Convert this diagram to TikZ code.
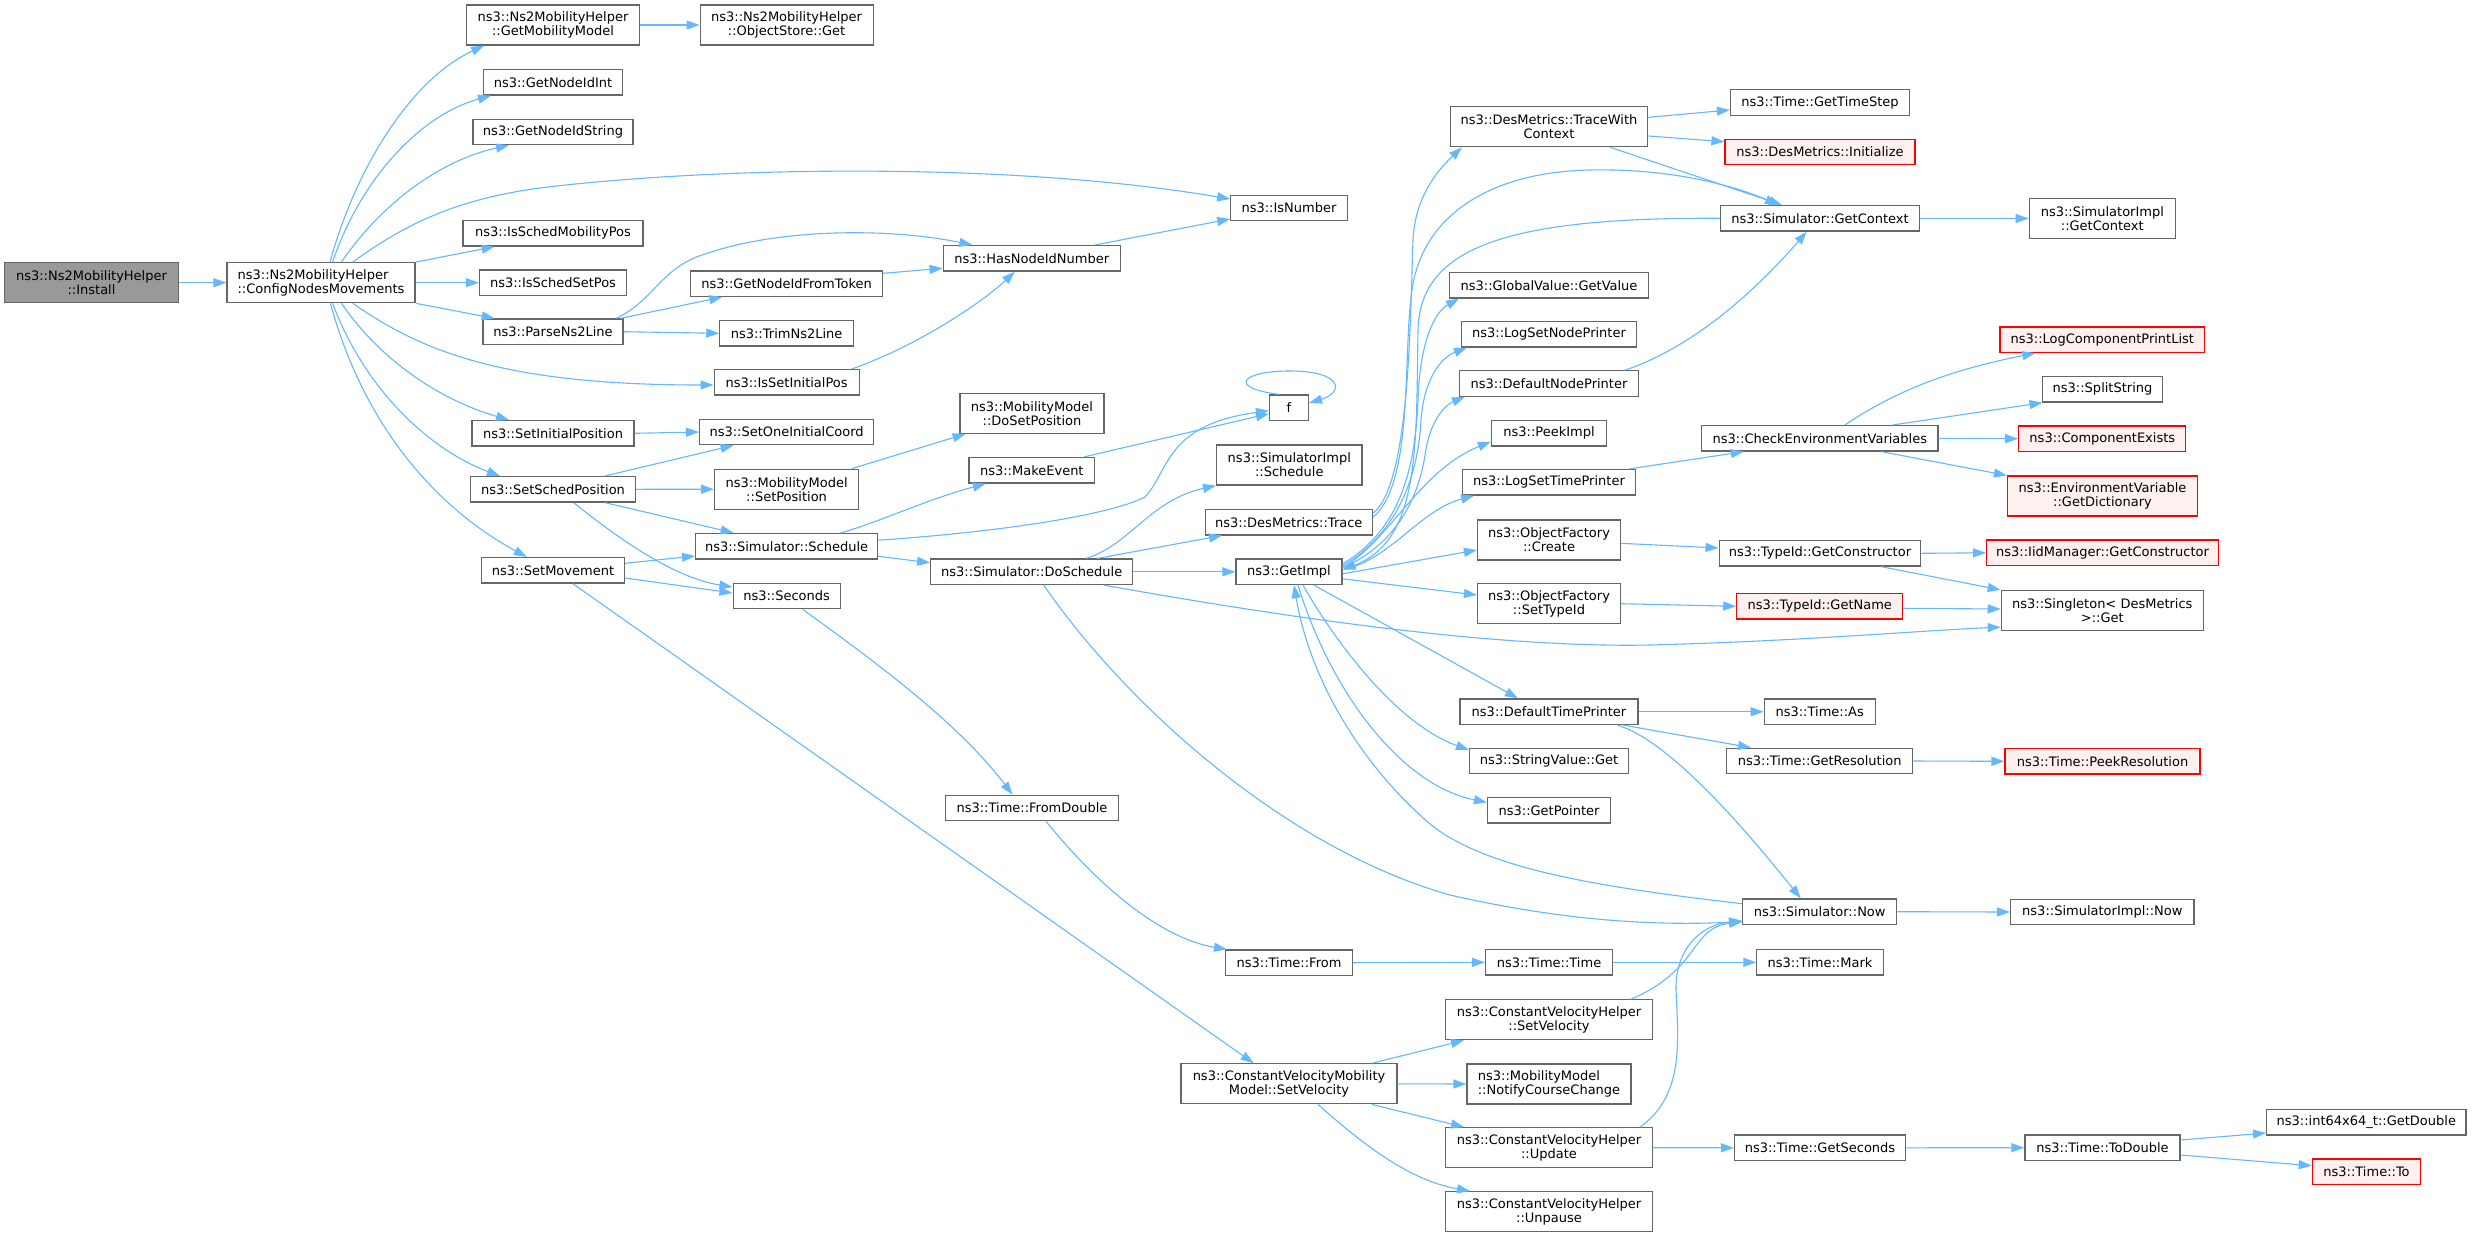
\documentclass[tikz,border=0pt]{standalone}
\usepackage{fontspec}
\setmainfont{DejaVu Sans}
\usetikzlibrary{arrows.meta}
\definecolor{edgeblue}{HTML}{63B8FF}
\definecolor{nodegray}{HTML}{666666}
\definecolor{rootfill}{HTML}{999999}
\definecolor{redfill}{HTML}{FFF0F0}
\begin{document}
\begin{tikzpicture}[x=1pt,y=-1pt,
  nd/.style={draw=nodegray, line width=1.2pt, fill=white, inner sep=0pt, minimum height=25.5pt, font=\fontsize{13}{14}\selectfont, align=center, text=black},
  two/.style={minimum height=40pt},
  rootnd/.style={fill=rootfill},
  rednd/.style={draw=red, fill=redfill},
  e/.style={draw=edgeblue, line width=1.1pt, -{Triangle[length=13pt,width=9pt]}}]
\fill[white] (0,0) rectangle (2472,1237);
\useasboundingbox (0,0) rectangle (2472,1237);
% column 1-3
\node[nd,rootnd,two,minimum width=174pt] (root) at (91.5,282.7) {ns3::Ns2MobilityHelper\\::Install};
\node[nd,two,minimum width=188pt,align=left] (cnm) at (321,282.7) {ns3::Ns2MobilityHelper\\::ConfigNodesMovements};
\node[nd,two,minimum width=173pt] (gmm) at (553,25) {ns3::Ns2MobilityHelper\\::GetMobilityModel};
\node[nd,minimum width=139pt] (gnii) at (553,82.3) {ns3::GetNodeIdInt};
\node[nd,minimum width=160pt] (gnis) at (553,132) {ns3::GetNodeIdString};
\node[nd,minimum width=180pt] (isp) at (553,233.3) {ns3::IsSchedMobilityPos};
\node[nd,minimum width=147pt] (issp) at (553,282.7) {ns3::IsSchedSetPos};
\node[nd,minimum width=140pt] (pnl) at (553,331.7) {ns3::ParseNs2Line};
\node[nd,minimum width=162pt] (sip) at (553,433.3) {ns3::SetInitialPosition};
\node[nd,minimum width=165pt] (ssp) at (553,489.3) {ns3::SetSchedPosition};
\node[nd,minimum width=143pt] (smv) at (553,570.3) {ns3::SetMovement};
% column 4
\node[nd,two,minimum width=173pt] (osg) at (786.6,25) {ns3::Ns2MobilityHelper\\::ObjectStore::Get};
\node[nd,minimum width=192pt] (gnift) at (786.6,283.7) {ns3::GetNodeIdFromToken};
\node[nd,minimum width=133.5pt] (trim) at (786.6,333.3) {ns3::TrimNs2Line};
\node[nd,minimum width=145pt] (isip) at (786.6,382.3) {ns3::IsSetInitialPos};
\node[nd,minimum width=174pt] (soic) at (786.6,432) {ns3::SetOneInitialCoord};
\node[nd,two,minimum width=144pt] (mmsp) at (786.6,489.2) {ns3::MobilityModel\\::SetPosition};
\node[nd,minimum width=182pt] (ssch) at (786.6,546.2) {ns3::Simulator::Schedule};
\node[nd,minimum width=107pt] (sec) at (786.6,596) {ns3::Seconds};
% column 5
\node[nd,minimum width=177pt] (hnin) at (1031.7,258.3) {ns3::HasNodeIdNumber};
\node[nd,two,minimum width=144pt] (dsp) at (1032,413.3) {ns3::MobilityModel\\::DoSetPosition};
\node[nd,minimum width=125.5pt] (mke) at (1031.8,470.3) {ns3::MakeEvent};
\node[nd,minimum width=202pt] (dsch) at (1031.7,571.8) {ns3::Simulator::DoSchedule};
\node[nd,minimum width=173pt] (fdb) at (1032,808) {ns3::Time::FromDouble};
% column 6
\node[nd,minimum width=116.5pt] (isnum) at (1289,208) {ns3::IsNumber};
\node[nd,minimum width=39pt] (f) at (1289,407.7) {f};
\node[nd,two,minimum width=145.5pt] (sis) at (1289.3,465) {ns3::SimulatorImpl\\::Schedule};
\node[nd,minimum width=167pt] (dtr) at (1288.8,522.2) {ns3::DesMetrics::Trace};
\node[nd,minimum width=106pt] (gimpl) at (1289,571.8) {ns3::GetImpl};
\node[nd,minimum width=127pt] (tfrom) at (1289,962.7) {ns3::Time::From};
\node[nd,two,minimum width=216pt] (cvmm) at (1289,1083.8) {ns3::ConstantVelocityMobility\\Model::SetVelocity};
% column 7
\node[nd,two,minimum width=197.5pt] (twc) at (1549,126.7) {ns3::DesMetrics::TraceWith\\Context};
\node[nd,minimum width=199.4pt] (gval) at (1549,285.2) {ns3::GlobalValue::GetValue};
\node[nd,minimum width=175pt] (lsnp) at (1549,334.3) {ns3::LogSetNodePrinter};
\node[nd,minimum width=179pt] (dnp) at (1549,383.5) {ns3::DefaultNodePrinter};
\node[nd,minimum width=115pt] (pimpl) at (1549,433.3) {ns3::PeekImpl};
\node[nd,minimum width=173pt] (lstp) at (1549,482.3) {ns3::LogSetTimePrinter};
\node[nd,two,minimum width=143pt] (ofc) at (1549,540) {ns3::ObjectFactory\\::Create};
\node[nd,two,minimum width=143pt] (ofs) at (1549,603.7) {ns3::ObjectFactory\\::SetTypeId};
\node[nd,minimum width=178pt] (dtp) at (1549,711.7) {ns3::DefaultTimePrinter};
\node[nd,minimum width=159pt] (svg) at (1549,761) {ns3::StringValue::Get};
\node[nd,minimum width=123pt] (gptr) at (1549,810.3) {ns3::GetPointer};
\node[nd,minimum width=127pt] (ttime) at (1549,962.3) {ns3::Time::Time};
\node[nd,two,minimum width=206.7pt] (cvhsv) at (1549,1019.7) {ns3::ConstantVelocityHelper\\::SetVelocity};
\node[nd,two,minimum width=164pt,align=left] (mmncc) at (1549,1084) {ns3::MobilityModel\\::NotifyCourseChange};
\node[nd,two,minimum width=206.7pt] (cvhu) at (1549,1147.7) {ns3::ConstantVelocityHelper\\::Update};
\node[nd,two,minimum width=206.7pt] (cvhup) at (1549,1211.7) {ns3::ConstantVelocityHelper\\::Unpause};
% column 8
\node[nd,minimum width=179pt] (gts) at (1820,102.5) {ns3::Time::GetTimeStep};
\node[nd,rednd,minimum width=190pt] (dmi) at (1820,152) {ns3::DesMetrics::Initialize};
\node[nd,minimum width=198.6pt] (sgc) at (1820,218.3) {ns3::Simulator::GetContext};
\node[nd,minimum width=236.5pt] (cev) at (1819.8,438.3) {ns3::CheckEnvironmentVariables};
\node[nd,minimum width=201.7pt] (tgc) at (1820,553.3) {ns3::TypeId::GetConstructor};
\node[nd,rednd,minimum width=166pt] (tgn) at (1819.8,606.3) {ns3::TypeId::GetName};
\node[nd,minimum width=111pt] (tas) at (1819.7,711.7) {ns3::Time::As};
\node[nd,minimum width=186pt] (tgr) at (1819.7,761) {ns3::Time::GetResolution};
\node[nd,minimum width=154pt] (snow) at (1819.7,911.7) {ns3::Simulator::Now};
\node[nd,minimum width=126.3pt] (tmark) at (1820,962.3) {ns3::Time::Mark};
\node[nd,minimum width=171pt] (tgs) at (1820,1147.8) {ns3::Time::GetSeconds};
% column 9
\node[nd,two,minimum width=146pt] (sigc) at (2102.3,218.5) {ns3::SimulatorImpl\\::GetContext};
\node[nd,rednd,minimum width=204.7pt] (lcpl) at (2102.3,339.8) {ns3::LogComponentPrintList};
\node[nd,minimum width=120pt] (sstr) at (2102.5,389.3) {ns3::SplitString};
\node[nd,rednd,minimum width=167pt] (cex) at (2102.3,438.7) {ns3::ComponentExists};
\node[nd,rednd,two,minimum width=190pt] (evgd) at (2102.5,496) {ns3::EnvironmentVariable\\::GetDictionary};
\node[nd,rednd,minimum width=231.7pt] (iigc) at (2102.5,552.8) {ns3::IidManager::GetConstructor};
\node[nd,two,minimum width=202pt] (sing) at (2102.3,610.5) {ns3::Singleton< DesMetrics\\ >::Get};
\node[nd,rednd,minimum width=195pt] (tpr) at (2102.5,761.3) {ns3::Time::PeekResolution};
\node[nd,minimum width=183.3pt] (sinow) at (2102.3,912) {ns3::SimulatorImpl::Now};
\node[nd,minimum width=155pt] (ttd) at (2102.5,1147.7) {ns3::Time::ToDouble};
% column 10
\node[nd,minimum width=199.3pt] (gdbl) at (2366.3,1122.3) {ns3::int64x64\_t::GetDouble};
\node[nd,rednd,minimum width=108.3pt] (tto) at (2366.5,1171.7) {ns3::Time::To};
% edges
\draw[e] (root.east) -- (cnm.west);
\draw[e] ([xshift=9pt]cnm.north) .. controls (355,170) and (410,80) .. ([xshift=-69pt]gmm.south);
\draw[e] ([xshift=11.6pt]cnm.north) .. controls (360,180) and (420,115) .. ([xshift=-62pt]gnii.south);
\draw[e] ([xshift=20.5pt]cnm.north) .. controls (380,205) and (440,160) .. ([xshift=-44pt]gnis.south);
\draw[e] ([xshift=31.7pt]cnm.north) .. controls (400,228) and (450,200) .. (540,188) .. controls (700,168) and (1000,160) .. ([yshift=9pt]isnum.west);
\draw[e] (cnm.north east) -- ([xshift=-58.4pt]isp.south);
\draw[e] (cnm.east) -- (issp.west);
\draw[e] (cnm.south east) -- ([xshift=-58.4pt]pnl.north);
\draw[e] ([xshift=31.7pt]cnm.south) .. controls (420,350) and (500,385) .. ([yshift=-2.7pt]isip.west);
\draw[e] ([xshift=20.5pt]cnm.south) .. controls (380,360) and (440,400) .. ([xshift=-44pt]sip.north);
\draw[e] ([xshift=11.6pt]cnm.south) .. controls (365,390) and (430,450) .. ([xshift=-53pt]ssp.north);
\draw[e] ([xshift=9.4pt]cnm.south) .. controls (365,430) and (440,510) .. ([xshift=-26.2pt]smv.north);
\draw[e] (gmm.east) -- (osg.west);
\draw[e] ([xshift=63pt]pnl.north) .. controls (655,300) and (660,268) .. (705,254) .. controls (780,228) and (890,228) .. ([xshift=-59.4pt]hnin.north);
\draw[e] ([xshift=67.5pt]pnl.north) -- ([xshift=-64.3pt]gnift.south);
\draw[e] (pnl.east) -- (trim.west);
\draw[e] ([yshift=10.4pt]gnift.east) -- ([yshift=-10pt]hnin.west);
\draw[e] ([xshift=65.2pt]isip.north) .. controls (920,345) and (985,300) .. ([xshift=-17pt]hnin.south);
\draw[e] ([xshift=63.3pt]hnin.north) -- ([yshift=-11pt]isnum.west);
\draw[e] (sip.east) -- (soic.west);
\draw[e] ([xshift=52pt]ssp.north) -- ([xshift=-53pt]soic.south);
\draw[e] (ssp.east) -- (mmsp.west);
\draw[e] ([xshift=52pt]ssp.south) -- ([xshift=-53pt]ssch.north);
\draw[e] ([xshift=20.7pt]ssp.south) .. controls (620,540) and (675,578) .. ([yshift=9pt]sec.west);
\draw[e] ([yshift=7pt]smv.east) -- ([yshift=-9.8pt]ssch.west);
\draw[e] ([yshift=-7.7pt]smv.east) -- ([yshift=3pt]sec.west);
\draw[e] ([xshift=19.8pt]smv.south) -- ([xshift=-35.4pt]cvmm.north);
\draw[e] ([xshift=65.2pt]mmsp.north) -- ([xshift=-66.4pt]dsp.south);
\draw[e] ([xshift=54pt]ssch.north) .. controls (880,522) and (925,500) .. ([xshift=-46pt]mke.south);
\draw[e] ([yshift=6pt]ssch.east) .. controls (1000,532) and (1110,515) .. (1145,497) .. controls (1170,470) and (1165,425) .. ([yshift=-3pt]f.west);
\draw[e] ([yshift=-10pt]ssch.east) -- ([yshift=9pt]dsch.west);
\draw[e] ([xshift=52pt]mke.north) -- ([yshift=-6pt]f.west);
\draw[e] ([xshift=-10pt]f.north) .. controls (1228,388) and (1240,371) .. (1290,371) .. controls (1342,371) and (1345,392) .. ([yshift=4.7pt]f.east);
\draw[e] ([xshift=16pt]sec.south) .. controls (880,665) and (960,725) .. ([xshift=-19.5pt]fdb.north);
\draw[e] ([xshift=14pt]fdb.south) .. controls (1110,900) and (1170,940) .. ([xshift=-62pt]tfrom.north);
\draw[e] (tfrom.east) -- (ttime.west);
\draw[e] (ttime.east) -- (tmark.west);
\draw[e] ([xshift=54.3pt]dsch.north) .. controls (1130,545) and (1150,500) .. (sis.south west);
\draw[e] ([xshift=65.3pt]dsch.north) -- ([xshift=-66.8pt]dtr.south);
\draw[e] (dsch.east) -- (gimpl.west);
\draw[e] ([xshift=72.3pt]dsch.south) .. controls (1300,620) and (1500,648) .. (1650,645) .. controls (1800,641) and (1900,632) .. ([yshift=-16.5pt]sing.west);
\draw[e] ([xshift=12pt]dsch.south) .. controls (1130,710) and (1290,850) .. (1450,895) .. controls (1560,920) and (1650,926) .. ([yshift=-10pt]snow.west);
\draw[e] ([yshift=9pt]dtr.east) .. controls (1410,485) and (1410,320) .. (1413,240) .. controls (1415,195) and (1440,168) .. ([xshift=-87pt]twc.south);
\draw[e] ([yshift=5pt]dtr.east) .. controls (1418,480) and (1400,330) .. (1415,275) .. controls (1430,215) and (1490,172) .. (1590,170) .. controls (1680,168) and (1745,190) .. ([xshift=-42pt]sgc.north);
\draw[e] ([yshift=9.4pt]twc.east) -- ([yshift=-7.5pt]gts.west);
\draw[e] ([yshift=-9.3pt]twc.east) -- ([yshift=10.3pt]dmi.west);
\draw[e] ([xshift=61pt]twc.south) -- ([xshift=-38pt]sgc.north);
\draw[e] (sgc.west) .. controls (1500,217) and (1420,250) .. (1418,330) .. controls (1416,450) and (1420,540) .. ([yshift=2pt]gimpl.east);
\draw[e] (sgc.east) -- (sigc.west);
\draw[e] ([xshift=76pt]dnp.north) .. controls (1700,345) and (1765,280) .. ([xshift=-13.3pt]sgc.south);
\draw[e] ([yshift=8pt]gimpl.east) .. controls (1400,530) and (1415,470) .. (1418,400) .. controls (1420,340) and (1435,312) .. ([xshift=-90pt]gval.south);
\draw[e] ([yshift=6pt]gimpl.east) .. controls (1395,535) and (1418,480) .. (1421,420) .. controls (1424,380) and (1440,358) .. ([xshift=-82pt]lsnp.south);
\draw[e] ([yshift=4pt]gimpl.east) .. controls (1395,545) and (1418,500) .. (1425,455) .. controls (1430,420) and (1445,405) .. ([xshift=-84pt]dnp.south);
\draw[e] ([yshift=4pt]gimpl.east) .. controls (1390,540) and (1420,470) .. ([yshift=-8.4pt]pimpl.west);
\draw[e] ([yshift=2pt]gimpl.east) .. controls (1390,560) and (1420,510) .. ([xshift=-75pt]lstp.south);
\draw[e] ([yshift=-2pt]gimpl.east) -- ([yshift=-10pt]ofc.west);
\draw[e] ([yshift=-7pt]gimpl.east) -- ([yshift=8.7pt]ofs.west);
\draw[e] ([xshift=25pt]gimpl.south) -- ([xshift=-31pt]dtp.north);
\draw[e] ([xshift=14pt]gimpl.south) .. controls (1340,650) and (1400,725) .. ([yshift=11pt]svg.west);
\draw[e] ([xshift=9pt]gimpl.south) .. controls (1330,690) and (1400,785) .. ([yshift=8pt]gptr.west);
\draw[e] ([yshift=8pt]snow.west) .. controls (1580,885) and (1470,865) .. (1420,815) .. controls (1360,760) and (1310,680) .. ([xshift=5pt]gimpl.south);
\draw[e] ([xshift=80pt]lstp.north) -- ([xshift=-76pt]cev.south);
\draw[e] ([xshift=25pt]cev.north) .. controls (1890,395) and (1940,372) .. ([xshift=-67pt]lcpl.south);
\draw[e] ([xshift=73pt]cev.north) -- ([xshift=-60pt]sstr.south);
\draw[e] (cev.east) -- (cex.west);
\draw[e] ([xshift=61.5pt]cev.south) -- (evgd.north west);
\draw[e] ([yshift=-3.3pt]ofc.east) -- ([yshift=5.3pt]tgc.west);
\draw[e] (tgc.east) -- (iigc.west);
\draw[e] ([xshift=61pt]tgc.south) -- (sing.north west);
\draw[e] (ofs.east) -- (tgn.west);
\draw[e] ([yshift=-2pt]tgn.east) -- ([yshift=1.5pt]sing.west);
\draw[e] (dtp.east) -- (tas.west);
\draw[e] ([xshift=74pt]dtp.south) -- ([xshift=-68.7pt]tgr.north);
\draw[e] ([xshift=68pt]dtp.south) .. controls (1670,740) and (1750,835) .. ([xshift=-19pt]snow.north);
\draw[e] (tgr.east) -- (tpr.west);
\draw[e] (snow.east) -- (sinow.west);
\draw[e] ([xshift=83pt]cvmm.north) -- ([xshift=-85pt]cvhsv.south);
\draw[e] (cvmm.east) -- (mmncc.west);
\draw[e] ([xshift=83pt]cvmm.south) -- ([xshift=-85pt]cvhu.north);
\draw[e] ([xshift=29pt]cvmm.south) .. controls (1380,1160) and (1420,1182) .. ([xshift=-79pt]cvhup.north);
\draw[e] ([xshift=82pt]cvhsv.north) .. controls (1700,970) and (1690,928) .. ([yshift=-10pt]snow.west);
\draw[e] ([xshift=91pt]cvhu.north) .. controls (1685,1095) and (1678,1040) .. (1676,990) .. controls (1675,950) and (1700,925) .. ([yshift=-9pt]snow.west);
\draw[e] (cvhu.east) -- (tgs.west);
\draw[e] (tgs.east) -- (ttd.west);
\draw[e] ([yshift=7.7pt]ttd.east) -- ([yshift=-10.7pt]gdbl.west);
\draw[e] ([yshift=-7.3pt]ttd.east) -- ([yshift=6pt]tto.west);
\end{tikzpicture}
\end{document}
